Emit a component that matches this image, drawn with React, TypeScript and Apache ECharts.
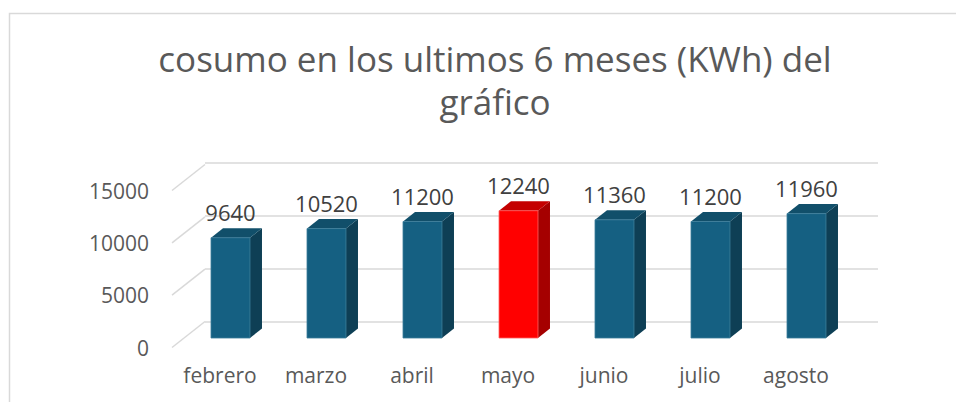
import React, { useEffect, useRef } from "react";
import * as echarts from "echarts";

const titleLine1 = "cosumo en los ultimos 6 meses (KWh) del";
const titleLine2 = "gráfico";
const categories = ["febrero", "marzo", "abril", "mayo", "junio", "julio", "agosto"];
const values = [9640, 10520, 11200, 12240, 11360, 11200, 11960];
const highlighted = ["mayo"];
const yTicks = [0, 5000, 10000, 15000];

const FONT = "'Open Sans', 'Noto Sans', sans-serif";
const BLUE = { front: "#156082", side: "#0E3F55", top: "#114F6A", stroke: "#3B7C99" };
const RED = { front: "#FF0000", side: "#A50000", top: "#C40000", stroke: "#FF6060" };
const GRID_COLOR = "#D9D9D9";
const DEPTH_X = 33;
const DEPTH_Y = -26;
const BAR_DX = 12;
const BAR_DY = 9.5;

export default function App() {
  const ref = useRef<HTMLDivElement>(null);
  useEffect(() => {
    if (!ref.current) return;
    const chart = echarts.init(ref.current, undefined, { renderer: "svg" });
    const yBase = { type: "value", min: 0, max: 15000, interval: 5000 };
    const titleStyle = { fontFamily: FONT, fontSize: 35, fontWeight: "normal", color: "#595959" };
    chart.setOption({
      animation: false,
      backgroundColor: "#ffffff",
      title: [
        { text: titleLine1, left: 490, top: 36, textAlign: "center", textStyle: titleStyle },
        { text: titleLine2, left: 490, top: 79, textAlign: "center", textStyle: titleStyle },
      ],
      graphic: [
        {
          type: "rect",
          shape: { x: 9.5, y: 13.5, width: 1000, height: 500 },
          style: { fill: "none", stroke: GRID_COLOR, lineWidth: 1.5 },
          silent: true,
        },
      ],
      grid: [
        { left: 172, top: 190.5, width: 672, height: 157 },
        { left: 205, top: 163, width: 673, height: 158.5 },
        { left: 182.5, top: 182, width: 672, height: 156 },
      ],
      xAxis: [
        {
          type: "category",
          gridIndex: 0,
          data: categories,
          axisLine: { show: false },
          axisTick: { show: false },
          axisLabel: { interval: 0, margin: 17, fontFamily: FONT, fontSize: 21, color: "#595959" },
        },
        { type: "category", gridIndex: 1, data: categories, show: false },
        { type: "category", gridIndex: 2, data: categories, show: false },
      ],
      yAxis: [
        {
          ...yBase,
          gridIndex: 0,
          axisLine: { show: false },
          axisTick: { show: false },
          splitLine: { show: false },
          axisLabel: {
            margin: 23,
            fontFamily: FONT,
            fontSize: 21,
            color: "#595959",
            formatter: (v: number) => String(v),
          },
        },
        {
          ...yBase,
          gridIndex: 1,
          axisLine: { show: false },
          axisTick: { show: false },
          axisLabel: { show: false },
          splitLine: { show: true, lineStyle: { color: GRID_COLOR, width: 1.5 } },
        },
        { ...yBase, gridIndex: 2, show: false },
      ],
      series: [
        {
          type: "custom",
          xAxisIndex: 0,
          yAxisIndex: 0,
          data: yTicks.map((v) => [0, v]),
          silent: true,
          renderItem: (params: any, api: any) => {
            const y = api.coord([0, api.value(1)])[1];
            const x = params.coordSys.x;
            return {
              type: "line",
              shape: { x1: x, y1: y, x2: x + DEPTH_X, y2: y + DEPTH_Y },
              style: { stroke: GRID_COLOR, lineWidth: 1.5 },
            };
          },
        },
        {
          type: "custom",
          xAxisIndex: 2,
          yAxisIndex: 2,
          data: values.map((v, i) => [i, v]),
          silent: true,
          renderItem: (params: any, api: any) => {
            const i = api.value(0);
            const v = api.value(1);
            const top = api.coord([i, v]);
            const base = api.coord([i, 0]);
            const w = api.size([1, 0])[0] * 0.406;
            const x0 = top[0] - w / 2;
            const x1 = x0 + w;
            const c = highlighted.includes(categories[i]) ? RED : BLUE;
            return {
              type: "group",
              children: [
                {
                  type: "polygon",
                  shape: {
                    points: [
                      [x1, top[1]],
                      [x1 + BAR_DX, top[1] - BAR_DY],
                      [x1 + BAR_DX, base[1] - BAR_DY],
                      [x1, base[1]],
                    ],
                  },
                  style: { fill: c.side },
                },
                {
                  type: "polygon",
                  shape: {
                    points: [
                      [x0, top[1]],
                      [x0 + BAR_DX, top[1] - BAR_DY],
                      [x1 + BAR_DX, top[1] - BAR_DY],
                      [x1, top[1]],
                    ],
                  },
                  style: { fill: c.top },
                },
                {
                  type: "rect",
                  shape: { x: x0, y: top[1], width: w, height: base[1] - top[1] },
                  style: { fill: c.front, stroke: c.stroke, lineWidth: 0.8 },
                },
                {
                  type: "text",
                  style: {
                    text: String(v),
                    x: top[0],
                    y: top[1] - 26,
                    align: "center",
                    verticalAlign: "middle",
                    fontFamily: FONT,
                    fontSize: 22,
                    fill: "#404040",
                  },
                },
              ],
            };
          },
        },
      ],
    });
    return () => chart.dispose();
  }, []);
  return <div ref={ref} style={{ position: "fixed", left: 0, top: 0, width: 956, height: 402 }} />;
}
